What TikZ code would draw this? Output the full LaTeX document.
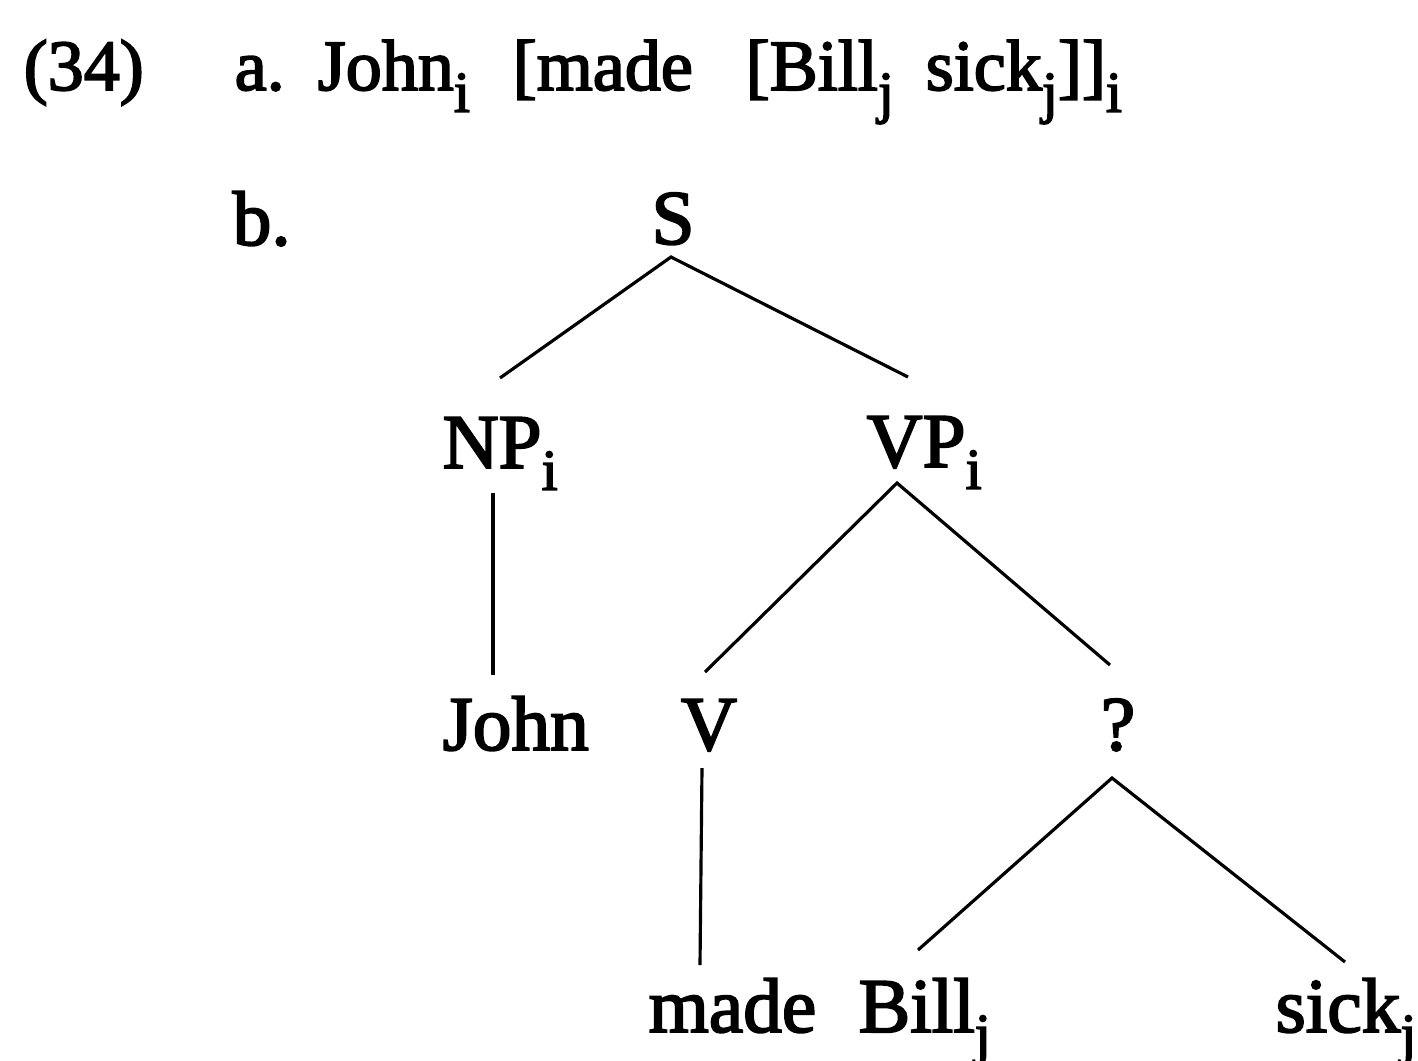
\documentclass[tikz,border=0pt]{standalone}
\usepackage{fontspec}
\setmainfont{Liberation Serif}[FakeBold=2.5]
% lowered subscript index, as set in the tree and in the bracketing
\newcommand{\sbx}[1]{\raisebox{-6.2pt}{\fontsize{16.5}{17}\selectfont #1}}
\begin{document}
\begin{tikzpicture}[x=0.01cm,y=-0.01cm,
  lbl/.style={inner sep=0pt,font=\fontsize{22}{26}\selectfont},
  hdr/.style={inner sep=0pt,anchor=base west,font=\fontsize{20.5}{24}\selectfont},
  branch/.style={line width=0.9pt}]
\useasboundingbox[fill=white] (0,0) rectangle (1418,1060);
% example header
\node[hdr] (num) at (23,90) {(34)};
\node[hdr] (ea) at (234,90) {a.};
\node[hdr] (ew1) at (317,90) {John\sbx{i}};
\node[hdr] (ew2) at (512,90) {[made};
\node[hdr] (ew3) at (745,90) {[Bill\sbx{j}};
\node[hdr] (ew4) at (925,90) {sick\sbx{j}]]\sbx{i}};
\node[lbl,anchor=base west] (bl) at (232,245) {b.};
% tree labels
\node[lbl,anchor=base] (S) at (673,244) {S};
\node[lbl,anchor=base west] (NP) at (442,468) {NP\sbx{i}};
\node[lbl,anchor=base west] (VP) at (866,467) {VP\sbx{i}};
\node[lbl,anchor=base west] (John) at (442,750) {John};
\node[lbl,anchor=base] (V) at (709,750) {V};
\node[lbl,anchor=base] (Q) at (1118,750) {?};
\node[lbl,anchor=base west] (made) at (648,1032) {made};
\node[lbl,anchor=base west] (Bill) at (858,1032) {Bill\sbx{j}};
\node[lbl,anchor=base west] (sick) at (1275,1032) {sick\sbx{j}};
% branch end points
\coordinate (S-b) at (671,257);
\coordinate (NP-t) at (500,378);
\coordinate (VP-t) at (908,377);
\coordinate (NP-b) at (493,493);
\coordinate (John-t) at (493,675);
\coordinate (VP-b) at (897,483);
\coordinate (V-t) at (705,672);
\coordinate (Q-t) at (1110,665);
\coordinate (V-b) at (702,768);
\coordinate (made-t) at (700,965);
\coordinate (Q-b) at (1112,778);
\coordinate (Bill-t) at (918,950);
\coordinate (sick-t) at (1345,962);
\draw[branch] (NP-t) -- (S-b) -- (VP-t);
\draw[branch] (NP-b) -- (John-t);
\draw[branch] (V-t) -- (VP-b) -- (Q-t);
\draw[branch] (V-b) -- (made-t);
\draw[branch] (Bill-t) -- (Q-b) -- (sick-t);
\end{tikzpicture}
\end{document}
